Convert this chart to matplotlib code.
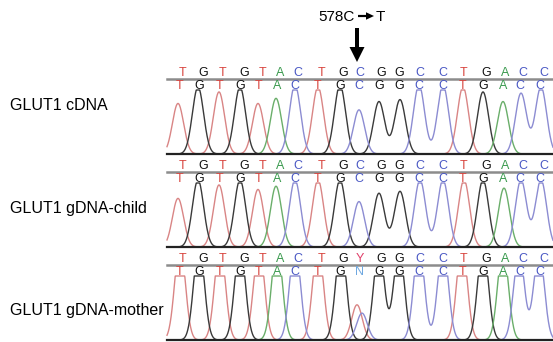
import numpy as np
import matplotlib
matplotlib.use("Agg")
import matplotlib.pyplot as plt
from matplotlib.patches import FancyArrow

plt.rcParams['font.family'] = ['Liberation Sans', 'DejaVu Sans']

# ---------------- data ----------------
panel_labels = ["GLUT1 cDNA", "GLUT1 gDNA-child", "GLUT1 gDNA-mother"]

upper_calls = ["TGTGTACTGCGGCCTGACC",
               "TGTGTACTGCGGCCTGACC",
               "TGTGTACTGYGGCCTGACC"]
lower_calls = ["TGTGTACTGCGGCCTGACC",
               "TGTGTACTGCGGCCTGACC",
               "TGTGTACTGNGGCCTGACC"]

# scan positions of the called bases
upper_pos = [183, 203, 223, 244, 263, 280, 298, 322, 343, 360, 381, 399, 420, 443, 464, 486, 505, 523, 544]
lower_pos = [180, 199, 220, 240, 259, 277, 295, 318, 340, 359, 379, 399, 419, 443, 463, 483, 503, 520, 540]

# channel of each trace peak, its position and its relative height
peak_bases = ["TGTGTACTGCGGCCTGACC",
              "TGTGTACTGCGGCCTGACC",
              "TGTGTACTGTGGCCTGACCC"]
peak_pos = [
    [178, 198, 219, 240, 258, 276, 295, 318, 340, 359, 379, 400, 419, 443, 463, 483, 503, 521, 541],
    [178, 198, 219, 240, 258, 276, 295, 318, 340, 359, 379, 400, 420, 443, 464, 483, 504, 521, 541],
    [180, 199, 220, 240, 259, 277, 295, 318, 341, 357, 379, 399, 419, 443, 462, 483, 503, 519, 539, 362],
]
peak_heights = [
    [0.79, 1.05, 0.97, 1.05, 0.79, 0.87, 1.08, 1.05, 1.08, 0.69, 0.82, 0.85, 1.08, 1.08, 1.05, 0.97, 0.82, 0.95, 1.05],
    [0.76, 1.05, 0.97, 1.05, 0.90, 0.95, 1.05, 1.05, 1.05, 0.71, 0.84, 0.87, 1.05, 1.05, 1.05, 1.05, 0.92, 1.05, 1.05],
    [1.50, 1.50, 1.50, 1.50, 1.50, 1.50, 1.50, 1.50, 1.50, 0.55, 1.45, 1.45, 1.50, 1.50, 1.50, 1.50, 1.45, 1.40, 1.40, 0.42],
]
peak_sigma = [5.6, 5.6, 5.3]

letter_colors = {"T": "#d8453f", "G": "#111111", "A": "#3a9a4e", "C": "#4a58c4",
                 "Y": "#e0406a", "N": "#6fa8e0"}
trace_colors = {"T": "#d98585", "G": "#3a3a3a", "A": "#6aae6a", "C": "#8c8cd2"}

# ---------------- layout ----------------
W, H = 553, 342
fig = plt.figure(figsize=(W / 100, H / 100), dpi=100)
fig.patch.set_facecolor("white")

x_left, x_right = 167, 553
baselines_px = [154, 247, 340]
label_y_px = [106, 208, 310]
unit_px = 64.0
ytop = 1.4

scan = np.linspace(x_left, x_right, 1600)

for i in range(3):
    b = baselines_px[i]
    ax = fig.add_axes([x_left / W, (H - b) / H, (x_right - x_left) / W, ytop * unit_px / H])
    ax.set_xlim(x_left, x_right)
    ax.set_ylim(0, ytop)
    ax.axis("off")

    for ch in "TGAC":
        y = np.zeros_like(scan)
        for bse, p, h in zip(peak_bases[i], peak_pos[i], peak_heights[i]):
            if bse == ch:
                y += h * np.exp(-(scan - p) ** 2 / (2 * peak_sigma[i] ** 2))
        y = np.minimum(y, 1.0)
        ax.plot(scan, y, color=trace_colors[ch], lw=1.0, solid_joinstyle="round", clip_on=False)

    ax.plot([x_left, x_right], [0, 0], color="#222222", lw=1.6, clip_on=False)
    ax.plot([x_left, x_right], [1.17, 1.17], color="#8c8c8c", lw=1.8, clip_on=False)

    for c, p in zip(upper_calls[i], upper_pos):
        ax.text(p, 1.265, c, color=letter_colors[c], fontsize=9, ha="center", va="center", clip_on=False)
    for c, p in zip(lower_calls[i], lower_pos):
        ax.text(p, 1.065, c, color=letter_colors[c], fontsize=9, ha="center", va="center", clip_on=False)

    fig.text(10 / W, 1 - label_y_px[i] / H, panel_labels[i], fontsize=11.5, ha="left", va="center")

# ---------------- mutation annotation ----------------
ov = fig.add_axes([0, 0, 1, 1], facecolor="none")
ov.set_xlim(0, W)
ov.set_ylim(H, 0)
ov.axis("off")
ov.text(318, 17, "578C", fontsize=11, ha="left", va="center")
ov.add_patch(FancyArrow(358, 16, 16, 0, width=2.2, head_width=7.5, head_length=8,
                        length_includes_head=True, color="black", lw=0))
ov.text(376, 17, "T", fontsize=11, ha="left", va="center")
ov.add_patch(FancyArrow(357, 28, 0, 34, width=4, head_width=15, head_length=15,
                        length_includes_head=True, color="black", lw=0))

fig.savefig("out.png", dpi=100, facecolor="white")
